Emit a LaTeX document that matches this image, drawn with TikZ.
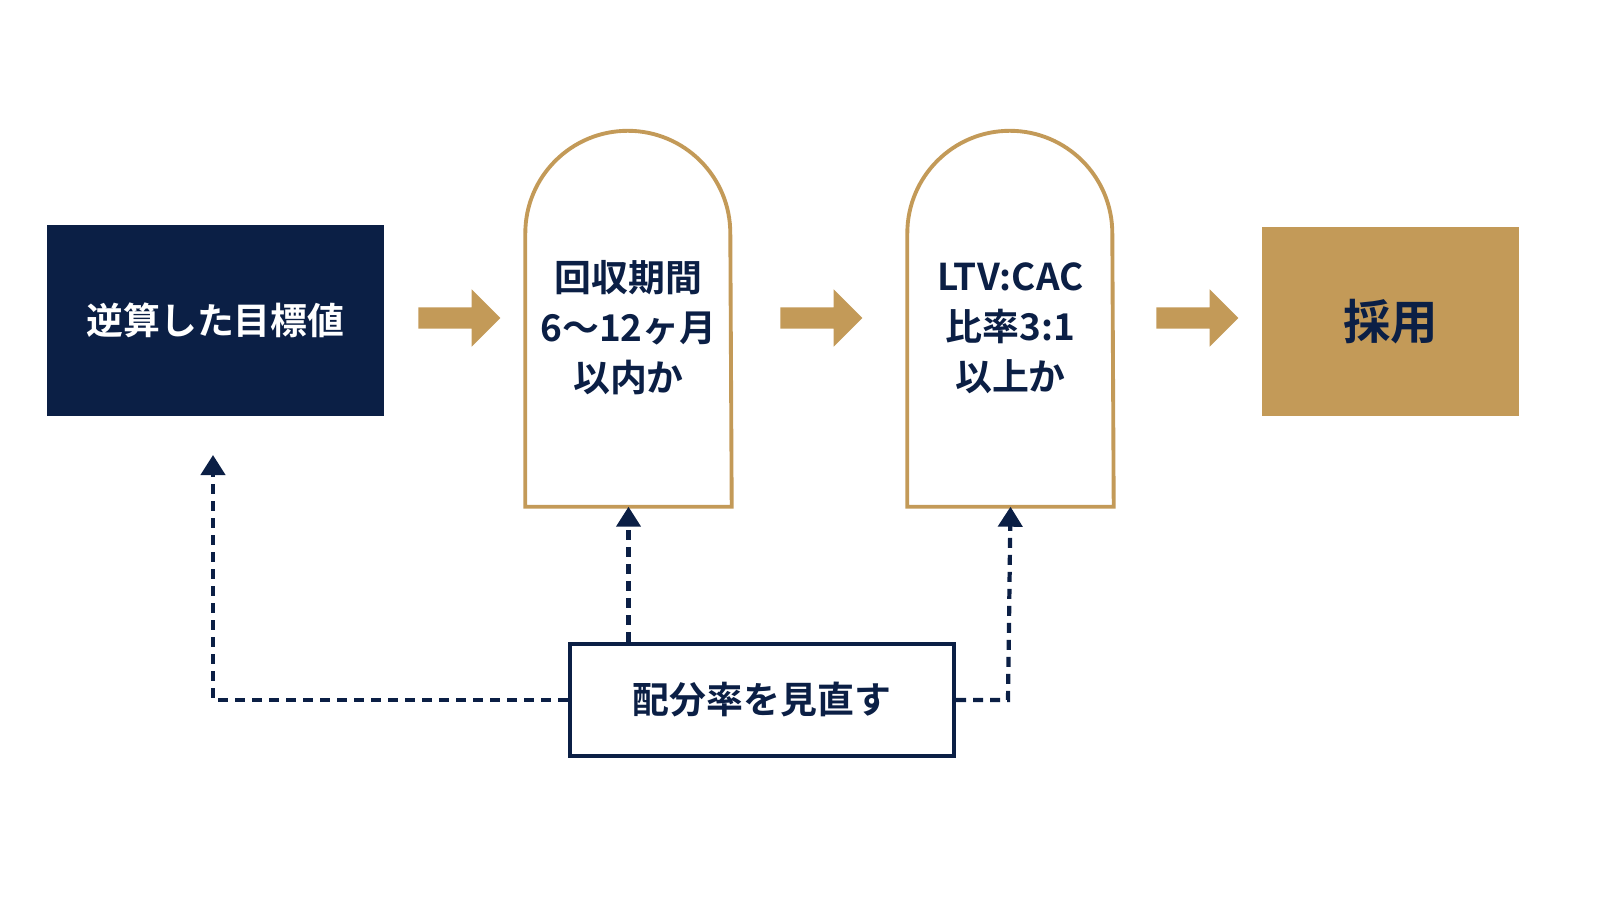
\documentclass[tikz,border=0pt]{standalone}
\usepackage{fontspec}
\setmainfont{Noto Sans CJK JP}[UprightFont=* Bold]
\usetikzlibrary{arrows.meta,shapes.arrows}
\definecolor{navy}{HTML}{0B1F45}
\definecolor{gold}{HTML}{C39A58}
\tikzset{
  lbl/.style={align=center, font=\fontsize{10.5pt}{14.2pt}\selectfont, text=navy},
  flow/.style={single arrow, fill=gold, draw=none, minimum height=0.82cm, minimum width=0.56cm,
    inner xsep=0pt, inner ysep=0.1cm, text height=0pt, text depth=0pt, single arrow head extend=0.18cm, single arrow tip angle=90},
  back/.style={draw=navy, line width=1.2pt, dash pattern=on 0.1cm off 0.07cm, -{Triangle[width=0.24cm,length=0.2cm]}}
}
\begin{document}
\begin{tikzpicture}
\useasboundingbox (0,0) rectangle (16,9);
			\draw (2.155, 5.795) 	node[fill=navy, minimum width=3.37cm, minimum height=1.91cm, lbl, text=white] 	(goal) 	{逆算した目標値};
			\draw (6.285, 5.3) 	node[minimum width=2.05cm, minimum height=2.72cm] 	(q1) 	{};
			\draw (10.105, 5.3) 	node[minimum width=2.05cm, minimum height=2.72cm] 	(q2) 	{};
			\draw (6.285, 5.72) 	node[lbl] 	(q1t) 	{回収期間\\6〜12ヶ月\\以内か};
			\draw (10.105, 5.72) 	node[lbl] 	(q2t) 	{LTV:CAC\\比率3:1\\以上か};
			\draw (13.905, 5.785) 	node[fill=gold, minimum width=2.57cm, minimum height=1.89cm, lbl, font=\fontsize{13.5pt}{14pt}\selectfont] 	(adopt) 	{採用};
			\draw (7.62, 2.0) 	node[draw=navy, line width=1.2pt, minimum width=3.84cm, minimum height=1.12cm, lbl] 	(review) 	{配分率を見直す};
			\draw (4.54, 5.82) 	node[flow] 	(a1) 	{};
			\draw (8.16, 5.82) 	node[flow] 	(a2) 	{};
			\draw (11.92, 5.82) 	node[flow] 	(a3) 	{};

			\draw[gold, line width=1.1pt] (q1.south west) -- (q1.north west) arc (180:0:1.025) -- (q1.south east) -- cycle;
			\draw[gold, line width=1.1pt] (q2.south west) -- (q2.north west) arc (180:0:1.025) -- (q2.south east) -- cycle;

			\coordinate (c1) at (2.13, 2.0);
			\coordinate (c2) at (10.08, 2.0);
			\draw[back] (review.west) -- (c1) -- (2.13, 4.45);
			\draw[back] (review.north -| q1) -- (q1.south);
			\draw[back] (review.east) -- (c2) -- (q2.south);
		\end{tikzpicture}
\end{document}
